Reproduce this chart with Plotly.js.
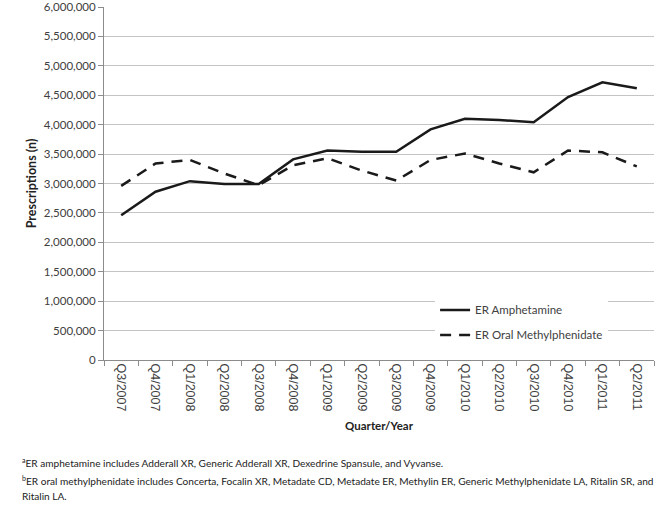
<!DOCTYPE html>
<html>
<head>
<meta charset="utf-8">
<script src="https://cdn.plot.ly/plotly-3.0.1.min.js"></script>
<style>
html,body{margin:0;padding:0;background:#fff;}
#chart{width:661px;height:516px;}
</style>
</head>
<body>
<div id="chart"></div>
<script>
const quarters = ["Q3/2007","Q4/2007","Q1/2008","Q2/2008","Q3/2008","Q4/2008","Q1/2009","Q2/2009","Q3/2009","Q4/2009","Q1/2010","Q2/2010","Q3/2010","Q4/2010","Q1/2011","Q2/2011"];
const erAmphetamine = [2460000,2860000,3040000,2990000,2990000,3410000,3560000,3540000,3540000,3920000,4100000,4080000,4040000,4470000,4720000,4620000];
const erMethylphenidate = [2960000,3340000,3400000,3170000,2970000,3310000,3430000,3220000,3050000,3400000,3510000,3340000,3190000,3560000,3530000,3290000];
const yTicks = [0,500000,1000000,1500000,2000000,2500000,3000000,3500000,4000000,4500000,5000000,5500000,6000000];
const footnoteA = "<sup>a</sup>ER amphetamine includes Adderall XR, Generic Adderall XR, Dexedrine Spansule, and Vyvanse.";
const footnoteB = "<sup>b</sup>ER oral methylphenidate includes Concerta, Focalin XR, Metadate CD, Metadate ER, Methylin ER, Generic Methylphenidate LA, Ritalin SR, and";
const footnoteC = "Ritalin LA.";

const FONT = "Lato, 'Open Sans', sans-serif";
const TICKFONT = "'Liberation Sans', Arial, sans-serif";
const traces = [
  {x: quarters, y: erAmphetamine, name: "ER Amphetamine", type: "scatter", mode: "lines",
   line: {color: "#1a1a1a", width: 2.5}, legendgroup: "a"},
  {x: quarters, y: erMethylphenidate, name: "ER Oral Methylphenidate", type: "scatter", mode: "lines",
   line: {color: "#1a1a1a", width: 2.5, dash: "11px,8px"}, legendgroup: "b"}
];
const fnFont = {family: FONT, size: 10.1, color: "#222"};
const layout = {
  width: 661, height: 516,
  margin: {l: 104, r: 7, t: 7, b: 156},
  paper_bgcolor: "#fff", plot_bgcolor: "#fff",
  font: {family: FONT, size: 11, color: "#404040"},
  showlegend: true,
  legend: {x: 0.602, y: 0.183, xanchor: "left", yanchor: "top", bgcolor: "#fff", borderwidth: 0,
           font: {family: FONT, size: 11.5, color: "#404040"}, traceorder: "grouped", tracegroupgap: 6},
  xaxis: {
    type: "category", tickangle: 90, showgrid: false, showline: true, linecolor: "#8c8c8c", linewidth: 1,
    ticks: "outside", ticklen: 5, tickcolor: "#8c8c8c", tickson: "boundaries",
    tickfont: {family: TICKFONT, size: 12.5, color: "#404040"},
    title: {text: "<b>Quarter/Year</b>", font: {family: FONT, size: 11.5, color: "#222"}, standoff: 11},
    range: [-0.5, 15.5], fixedrange: true
  },
  yaxis: {
    range: [0, 6000000], tickvals: yTicks, tickformat: ",d", showgrid: true, gridcolor: "#c4c4c4", gridwidth: 1,
    showline: true, linecolor: "#8c8c8c", linewidth: 1, ticks: "outside", ticklen: 5, tickcolor: "#8c8c8c",
    zeroline: false, tickfont: {family: FONT, size: 11.5, color: "#404040"},
    title: {text: "<b>Prescriptions (n)</b>", font: {family: FONT, size: 12.5, color: "#222"}, standoff: 4},
    fixedrange: true
  },
  annotations: [
    {text: footnoteA, xref: "paper", yref: "paper", x: -0.1527, y: -0.289, xanchor: "left", yanchor: "middle", showarrow: false, font: fnFont, align: "left"},
    {text: footnoteB, xref: "paper", yref: "paper", x: -0.1527, y: -0.340, xanchor: "left", yanchor: "middle", showarrow: false, font: fnFont, align: "left"},
    {text: footnoteC, xref: "paper", yref: "paper", x: -0.1527, y: -0.385, xanchor: "left", yanchor: "middle", showarrow: false, font: fnFont, align: "left"}
  ]
};
Plotly.newPlot("chart", traces, layout, {displayModeBar: false, staticPlot: true});
</script>
</body>
</html>
